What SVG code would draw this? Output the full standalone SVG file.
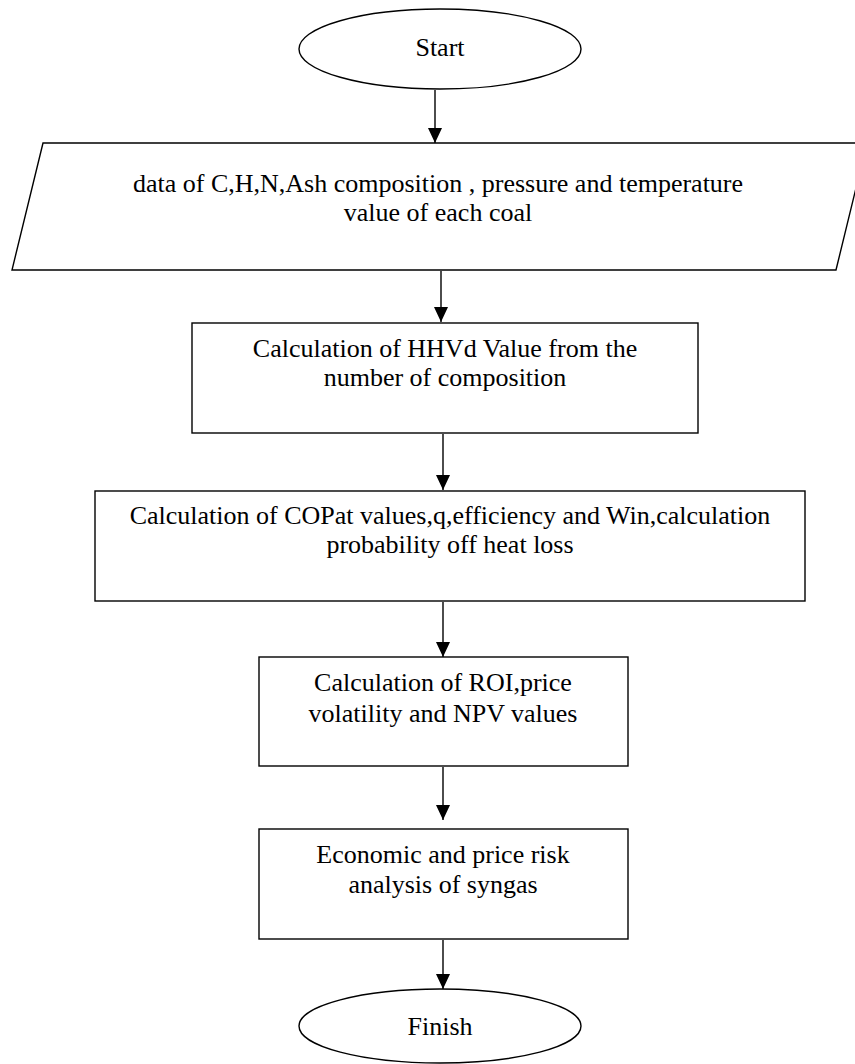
<svg xmlns="http://www.w3.org/2000/svg" width="855" height="1064" viewBox="0 0 855 1064">
<style>
.shape{fill:#fff;stroke:#000;stroke-width:1.4}
.lbl{font-family:"Liberation Serif","Times New Roman",serif;font-size:26px;fill:#000;text-anchor:middle}
.conn{stroke:#000;stroke-width:1.4;fill:none;marker-end:url(#arr)}
</style>
<defs>
<marker id="arr" viewBox="0 0 15 14" refX="15" refY="7" markerWidth="15" markerHeight="14" markerUnits="userSpaceOnUse" orient="auto">
<path d="M0,0 L15,7 L0,14 Z" fill="#000"/>
</marker>
</defs>
<rect width="855" height="1064" fill="#fff"/>
<g id="connectors">
<line class="conn" x1="435" y1="90" x2="435" y2="143"/>
<line class="conn" x1="441" y1="271" x2="441" y2="322"/>
<line class="conn" x1="443" y1="434" x2="443" y2="490"/>
<line class="conn" x1="443" y1="602" x2="443" y2="657"/>
<line class="conn" x1="443" y1="767" x2="443" y2="820"/>
<line class="conn" x1="443" y1="940" x2="443" y2="989"/>
</g>
<g id="start">
<ellipse class="shape" cx="440" cy="49" rx="141" ry="40"/>
<text class="lbl" x="440" y="56">Start</text>
</g>
<g id="input-data">
<polygon class="shape" points="43,143 867,143 836,270 12,270"/>
<text class="lbl" x="438" y="192">data of C,H,N,Ash composition , pressure and temperature</text>
<text class="lbl" x="438" y="221">value of each coal</text>
</g>
<g id="hhvd">
<rect class="shape" x="192" y="323" width="506" height="110"/>
<text class="lbl" x="445" y="357">Calculation of HHVd Value from the</text>
<text class="lbl" x="445" y="386">number of composition</text>
</g>
<g id="copat">
<rect class="shape" x="95" y="491" width="710" height="110"/>
<text class="lbl" x="450" y="524">Calculation of COPat values,q,efficiency and Win,calculation</text>
<text class="lbl" x="450" y="553">probability off heat loss</text>
</g>
<g id="roi">
<rect class="shape" x="259" y="657" width="369" height="109"/>
<text class="lbl" x="443" y="691">Calculation of ROI,price</text>
<text class="lbl" x="443" y="722">volatility and NPV values</text>
</g>
<g id="economic">
<rect class="shape" x="259" y="829" width="369" height="110"/>
<text class="lbl" x="443" y="863">Economic and price risk</text>
<text class="lbl" x="443" y="893">analysis of syngas</text>
</g>
<g id="finish">
<ellipse class="shape" cx="440" cy="1026" rx="141" ry="37"/>
<text class="lbl" x="440" y="1035">Finish</text>
</g>
</svg>
